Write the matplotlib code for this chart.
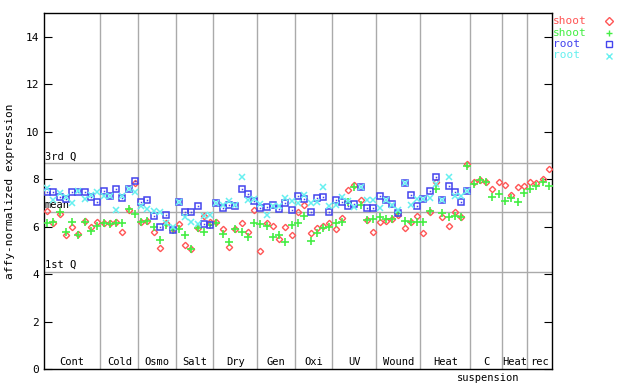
import numpy as np
import matplotlib
matplotlib.use("Agg")
import matplotlib.pyplot as plt

plt.rcParams['font.family'] = ['DejaVu Sans Mono']

# groups along the x axis (label, number of samples)
groups = ["Cont", "Cold", "Osmo", "Salt", "Dry", "Gen", "Oxi", "UV",
          "Wound", "Heat", "C", "Heat", "rec"]
group_sizes = [9, 6, 6, 6, 7, 6, 6, 7, 7, 8, 5, 4, 4]

# shoot replicate 1 (red) and 2 (green)
shoot_1 = [6.66, 6.17, 6.55, 5.65, 6.00, 5.69, 6.23, 6.00, 6.21,
           6.17, 6.14, 6.20, 5.78, 6.71, 7.83,
           6.21, 6.24, 5.79, 5.09, 6.14, 5.90,
           6.12, 5.22, 5.05, 5.93, 6.44, 6.20,
           6.20, 5.89, 5.12, 5.89, 6.17, 5.79, 6.71,
           4.99, 6.14, 6.02, 5.47, 5.98, 5.64,
           6.61, 6.90, 5.72, 5.93, 6.02, 6.14,
           5.89, 6.35, 7.54, 7.75, 7.13, 6.28, 5.76,
           6.21, 6.25, 6.31, 6.50, 5.93, 6.20, 6.45,
           5.72, 6.60, 7.87, 6.40, 6.03, 6.62, 6.40, 8.62,
           7.87, 7.97, 7.90, 7.58, 7.87,
           7.76, 7.34, 7.66, 7.72,
           7.90, 7.83, 8.00, 8.42]
shoot_2 = [6.14, 6.21, 6.61, 5.79, 6.21, 5.65, 6.18, 5.83, 6.03,
           6.17, 6.12, 6.17, 6.17, 6.73, 6.55,
           6.21, 6.24, 5.98, 5.43, 6.07, 5.86,
           5.89, 5.64, 5.05, 5.93, 5.76, 6.06,
           6.17, 5.70, 5.34, 5.88, 5.78, 5.57, 6.17,
           6.10, 6.02, 5.55, 5.64, 5.34, 6.06,
           6.14, 6.44, 5.38, 5.72, 5.93, 6.00,
           6.14, 6.19, 7.03, 7.66, 6.89, 6.28, 6.31,
           6.40, 6.31, 6.31, 6.57, 6.24, 6.20, 6.18,
           6.18, 6.64, 7.59, 6.57, 6.42, 6.45, 6.40, 8.55,
           7.80, 7.97, 7.87, 7.24, 7.38,
           7.09, 7.20, 7.03, 7.41,
           7.58, 7.69, 7.86, 7.72]
# root replicate 1 (blue) and 2 (cyan), no root for the last groups
root_1 = [7.45, 7.45, 7.24, 7.16, 7.45, 7.45, 7.45, 7.24, 7.03,
          7.49, 7.28, 7.58, 7.20, 7.58, 7.92,
          7.03, 7.11, 6.45, 5.98, 6.48, 5.84,
          7.03, 6.61, 6.61, 6.86, 6.10, 6.06,
          6.99, 6.78, 6.90, 6.87, 7.58, 7.37, 7.07,
          6.78, 6.82, 6.90, 6.73, 6.99, 6.69,
          7.28, 7.16, 6.61, 7.20, 7.24, 6.61,
          7.11, 7.03, 6.86, 6.94, 7.65, 6.80, 6.80,
          7.30, 7.10, 6.94, 6.57, 7.83, 7.32, 6.88,
          7.15, 7.51, 8.08, 7.10, 7.72, 7.45, 7.03, 7.52]
root_2 = [7.62, 7.10, 7.41, 7.24, 6.99, 7.52, 7.16, 7.33, 7.45,
          7.28, 7.28, 6.68, 7.30, 7.58, 7.45,
          6.85, 6.73, 6.65, 6.61, 6.14, 5.98,
          7.03, 6.40, 6.19, 6.10, 6.45, 6.48,
          6.99, 6.92, 7.07, 6.90, 8.08, 7.11, 7.16,
          6.94, 6.48, 6.86, 6.86, 7.20, 7.07,
          6.99, 7.32, 6.99, 7.03, 7.66, 6.86,
          6.90, 7.24, 7.07, 6.82, 7.65, 7.11, 7.11,
          6.78, 7.10, 6.90, 6.70, 7.83, 6.90, 7.17,
          7.15, 7.20, 7.80, 7.10, 8.08, 7.30, 7.30, 7.52]

q1, mean, q3 = 4.09, 6.62, 8.67

red, green, blue, cyan = '#ff5555', '#44ee44', '#4444ee', '#66f0f0'
grey = '#aaaaaa'

n = sum(group_sizes)
x_shoot = np.arange(len(shoot_1))
x_root = np.arange(len(root_1))

fig = plt.figure(figsize=(6.4, 3.84), dpi=100)
ax = fig.add_axes([44 / 640, 15 / 384, 508 / 640, 356 / 384])

# quartile / mean lines
for v, lab in [(q3, "3rd Q"), (mean, "mean"), (q1, "1st Q")]:
    ax.axhline(v, color=grey, lw=1, zorder=1)
    ax.text(-0.4, v + 0.08, lab, fontsize=7.5, va='bottom', ha='left', zorder=2)

# group separators and labels
edges = np.cumsum([0] + group_sizes) - 0.5
for e in edges[1:-1]:
    ax.axvline(e, color=grey, lw=1, zorder=1)
for i, g in enumerate(groups):
    c = (edges[i] + edges[i + 1]) / 2
    ax.text(c, 0.1, g, fontsize=7.5, ha='center', va='bottom')
c_susp = (edges[10] + edges[11]) / 2
ax.text(c_susp + 0.3, -0.15, "suspension", fontsize=7.5, ha='center', va='top',
        clip_on=False)

ax.plot(x_shoot, shoot_1, ls='none', marker='D', ms=3.2, mfc='none', mec=red,
        mew=1, zorder=3)
ax.plot(x_shoot, shoot_2, ls='none', marker='+', ms=5.5, mec=green, mew=1.2, zorder=3)
ax.plot(x_root, root_1, ls='none', marker='s', ms=4.2, mfc='none', mec=blue,
        mew=1.1, zorder=3)
ax.plot(x_root, root_1, ls='none', marker='s', ms=1.1, mfc=blue, mec='none', zorder=3)
ax.plot(x_root, root_2, ls='none', marker='x', ms=4.2, mec=cyan, mew=1.1, zorder=3)

ax.set_xlim(-0.5, n - 0.5)
ax.set_ylim(0, 15)
ax.set_xticks([])
ax.set_yticks(range(0, 15, 2))
ax.tick_params(axis='y', direction='in', length=6, right=True, labelsize=8)
ax.set_ylabel("affy-normalized expression", fontsize=8, labelpad=8)
for s in ax.spines.values():
    s.set_linewidth(1)

# legend outside on the right
leg = [("shoot", red, 'D'), ("shoot", green, '+'), ("root", blue, 's'), ("root", cyan, 'x')]
for i, (lab, col, m) in enumerate(leg):
    yy = 1 - (21 + i * 11.5) / 384
    fig.text(553 / 640, yy, lab, color=col, fontsize=8, va='center', ha='left')
    kw = dict(mfc='none') if m in 'Ds' else {}
    fig.add_artist(plt.Line2D([609 / 640], [yy], marker=m, color=col, ms=4,
                              mew=1, transform=fig.transFigure, **kw))

fig.savefig("out.png", dpi=100)
